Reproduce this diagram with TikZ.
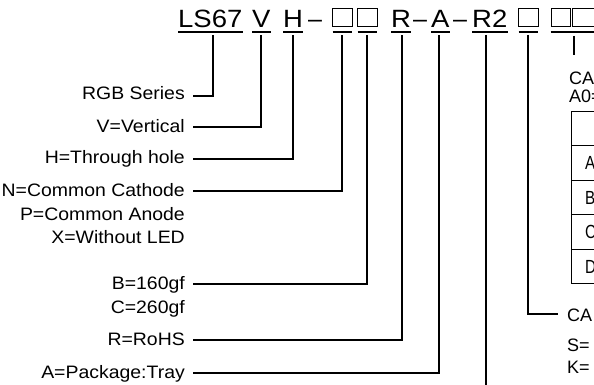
\documentclass[tikz,border=0pt]{standalone}
\usepackage{fontspec}
\setmainfont{Liberation Sans}
\usepackage{graphicx}
\newcommand\hstr[1]{\scalebox{1.1}[1]{#1}}
\newcommand\lstr[1]{\scalebox{1.08}[1]{#1}}
\newcommand\nrw[1]{\scalebox{0.8}[1]{#1}}
\begin{document}
\begin{tikzpicture}[x=1pt,y=-1pt,
  hdr/.style={font=\fontsize{25}{30}\selectfont, inner sep=0pt, anchor=base west},
  lbl/.style={font=\fontsize{18}{21}\selectfont, inner sep=0pt, anchor=base east},
  rtx/.style={font=\fontsize{18}{21}\selectfont, inner sep=0pt, anchor=base west},
  tlt/.style={font=\fontsize{19}{22}\selectfont, inner sep=0pt, anchor=base west},
  ln/.style={line width=1.3pt},
  uline/.style={line width=1.4pt},
  tbl/.style={line width=1pt},
  sq/.style={draw, line width=1pt, minimum width=20pt, minimum height=18pt, inner sep=0pt}]
\useasboundingbox (0,0) rectangle (594,385);
\clip (0,0) rectangle (594,385);

% header
\node[hdr] (ls67) at (178,28) {\hstr{LS67}};
\node[hdr] (v) at (252,28) {\hstr{V}};
\node[hdr] (h) at (283,28) {\hstr{H}};
\node[hdr] (d1) at (308,28) {–};
\node[sq] (b1) at (342,18) {};
\node[sq] (b2) at (367,18) {};
\node[hdr] (r) at (391,28) {\hstr{R}};
\node[hdr] (d2) at (413,28) {–};
\node[hdr] (a) at (431,28) {\hstr{A}};
\node[hdr] (d3) at (453,28) {–};
\node[hdr] (r2) at (472,28) {\hstr{R2}};
\node[sq] (b3) at (528,18) {};
\node[sq, minimum width=19pt] (b4) at (560.5,18) {};
\node[sq, minimum width=23pt] (b5) at (584,18) {};

% underlines
\coordinate (ul) at (0,32);
\draw[uline] (ls67.west |- ul) -- (ls67.east |- ul);
\draw[uline] (v.west |- ul) -- (v.east |- ul);
\draw[uline] (h.west |- ul) -- (h.east |- ul);
\draw[uline] ([xshift=1pt]b1.west |- ul) -- ([xshift=-1pt]b1.east |- ul);
\draw[uline] ([xshift=1pt]b2.west |- ul) -- ([xshift=-1pt]b2.east |- ul);
\draw[uline] (r.west |- ul) -- (r.east |- ul);
\draw[uline] (a.west |- ul) -- (a.east |- ul);
\draw[uline] (r2.west |- ul) -- (r2.east |- ul);
\draw[uline] ([xshift=1pt]b3.west |- ul) -- ([xshift=-1pt]b3.east |- ul);
\draw[uline] (b4.west |- ul) -- (b5.east |- ul);

% tops of leader lines
\coordinate (tLS) at (213,35);
\coordinate (tV) at (261,35);
\coordinate (tH) at (293,35);
\coordinate (tB1) at (342,35);
\coordinate (tB2) at (367,35);
\coordinate (tR) at (402,35);
\coordinate (tA) at (439,35);
\coordinate (tR2) at (486,35);
\coordinate (bR2) at (486,390);
\coordinate (tB3) at (528,35);
\coordinate (tB45) at (574,36);
\coordinate (eB45) at (574,55);

% left labels
\node[lbl] (l1) at (185,100) {\lstr{RGB Series}};
\node[lbl] (l2) at (185,132) {\lstr{V=Vertical}};
\node[lbl] (l3) at (185,164) {\lstr{H=Through hole}};
\node[lbl] (l4) at (185,196) {\lstr{N=Common Cathode}};
\node[lbl] (l5) at (185,220) {\lstr{P=Common Anode}};
\node[lbl] (l6) at (185,243) {\lstr{X=Without LED}};
\node[lbl] (l7) at (185,289) {\lstr{B=160gf}};
\node[lbl] (l8) at (185,313) {\lstr{C=260gf}};
\node[lbl] (l9) at (185,345) {\lstr{R=RoHS}};
\node[lbl] (l10) at (185,378) {\lstr{A=Package:Tray}};

% start points of horizontal leaders
\coordinate (s1) at (193,96);
\coordinate (s2) at (193,127);
\coordinate (s3) at (193,159);
\coordinate (s4) at (193,191);
\coordinate (s7) at (193,284);
\coordinate (s9) at (193,340);
\coordinate (s10) at (193,373);
\coordinate (e3) at (558,314);

\draw[ln] (s1) -| (tLS);
\draw[ln] (s2) -| (tV);
\draw[ln] (s3) -| (tH);
\draw[ln] (s4) -| (tB1);
\draw[ln] (s7) -| (tB2);
\draw[ln] (s9) -| (tR);
\draw[ln] (s10) -| (tA);
\draw[ln] (tR2) -- (bR2);
\draw[ln] (tB3) |- (e3);
\draw[ln] (tB45) -- (eB45);

% right texts
\node[rtx] (ca1) at (569,85) {CA};
\node[rtx] (a0) at (569,103) {A0=};
\node[rtx] (ca2) at (567,321) {CA};
\node[rtx] (s) at (567,351) {S=};
\node[rtx] (k) at (567,373) {K=};

% table
\draw[tbl] (600,112) -- (571,112) -- (571,283) -- (600,283);
\draw[tbl] (571,145) -- (600,145);
\draw[tbl] (571,180) -- (600,180);
\draw[tbl] (571,214) -- (600,214);
\draw[tbl] (571,249) -- (600,249);
\node[tlt] (ta) at (585,169) {\nrw{A}};
\node[tlt] (tb) at (585,204) {\nrw{B}};
\node[tlt] (tc) at (585,238) {\nrw{C}};
\node[tlt] (td) at (585,273) {\nrw{D}};
\end{tikzpicture}
\end{document}
